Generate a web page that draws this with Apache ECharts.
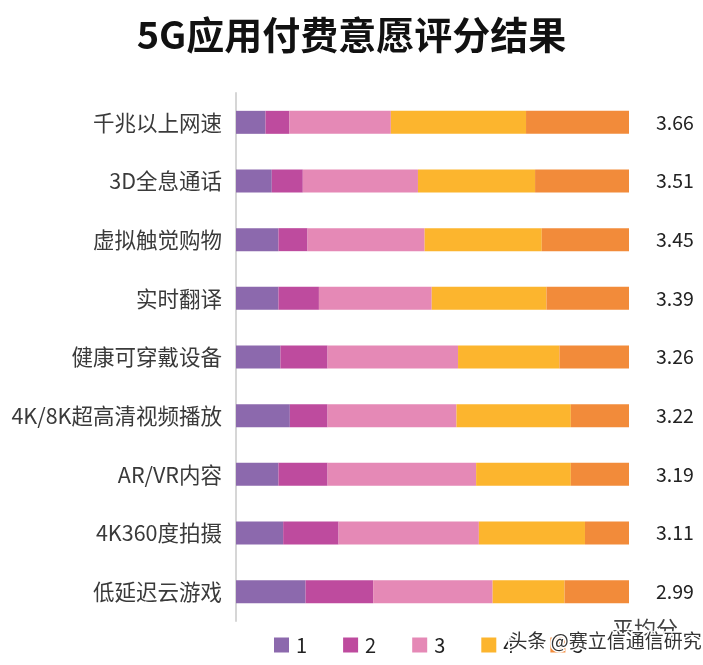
<!DOCTYPE html>
<html>
<head>
<meta charset="utf-8">
<script src="https://cdn.jsdelivr.net/npm/echarts@6/dist/echarts.min.js"></script>
<style>html,body{margin:0;padding:0;background:#fff;}#c{width:703px;height:665px;}</style>
</head>
<body>
<div id="c"></div>
<script>
const categories = ["千兆以上网速","3D全息通话","虚拟触觉购物","实时翻译","健康可穿戴设备","4K/8K超高清视频播放","AR/VR内容","4K360度拍摄","低延迟云游戏"];
const averages = ["3.66","3.51","3.45","3.39","3.26","3.22","3.19","3.11","2.99"];
const seriesNames = ["1","2","3","4","5"];
const score1 = [7.5, 9.1, 10.8, 10.8, 11.3, 13.7, 10.8, 12.0, 17.7];
const score2 = [6.1, 7.9, 7.4, 10.3, 12.0, 9.6, 12.5, 14.1, 17.2];
const score3 = [25.8, 29.3, 29.8, 28.7, 33.2, 32.8, 37.8, 35.7, 30.4];
const score4 = [34.4, 29.8, 29.8, 29.2, 25.8, 29.1, 24.1, 27.0, 18.3];
const score5 = [26.2, 23.9, 22.2, 21.0, 17.7, 14.8, 14.8, 11.2, 16.4];
const colors = ["#8C69AD","#BE4B9E","#E589B6","#FCB52E","#F28B3A"];

const values = [score1, score2, score3, score4, score5];
const chart = echarts.init(document.getElementById('c'), null, {renderer: 'canvas'});
const font = '"Noto Sans CJK SC", "Noto Sans", sans-serif';
chart.setOption({
  animation: false,
  backgroundColor: '#fff',
  title: {
    text: '5G应用付费意愿评分结果',
    left: 'center', top: 11,
    textStyle: {fontSize: 38, fontWeight: 'bold', color: '#111', fontFamily: font}
  },
  legend: {
    data: seriesNames,
    left: 269, top: 630,
    itemWidth: 15, itemHeight: 15, itemGap: 36,
    icon: 'rect',
    textStyle: {fontSize: 20, color: '#222', fontFamily: font, padding: [0,0,0,2]}
  },
  grid: {left: 236, right: 74, top: 93, height: 528},
  xAxis: {type: 'value', min: 0, max: 100, show: false},
  yAxis: [{
    type: 'category', data: categories, inverse: true,
    axisLine: {show: true, lineStyle: {color: '#d6d6d6', width: 2}},
    axisTick: {show: false},
    axisLabel: {fontSize: 21.5, color: '#3a3a3a', fontFamily: font, margin: 14}
  }, {
    type: 'category', data: averages, inverse: true, position: 'right',
    axisLine: {show: false}, axisTick: {show: false},
    axisLabel: {fontSize: 19.5, color: '#222', fontFamily: font, margin: 27}
  }],
  series: seriesNames.map((n, i) => ({
    name: n, type: 'bar', stack: 'all', barWidth: 23,
    data: values[i],
    itemStyle: {color: colors[i]}
  })),
  graphic: [
    {type: 'text', left: 612, top: 618, z: 10,
     style: {text: '平均分', fontSize: 22, fill: '#444', fontFamily: font}},
    {type: 'text', left: 507, top: 630, z: 20,
     style: {text: '头条 @赛立信通信研究', fontSize: 19, fill: '#333', stroke: '#fff', lineWidth: 3, fontFamily: font}}
  ]
});
</script>
</body>
</html>
